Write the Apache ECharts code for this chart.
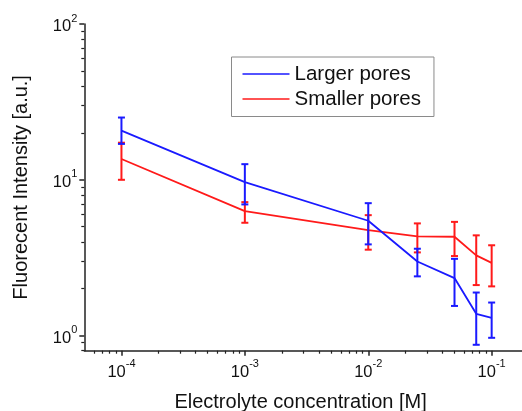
<!DOCTYPE html>
<html>
<head>
<meta charset="utf-8">
<script src="https://cdn.jsdelivr.net/npm/echarts@6/dist/echarts.min.js"></script>
<style>
html,body{margin:0;padding:0;background:#fff;}
#c{width:522px;height:411px;}
</style>
</head>
<body>
<div id="c"></div>
<script>
// Data
const concentrations = [0.0001, 0.001, 0.01, 0.025, 0.05, 0.075, 0.1];
const largerMean = [20.7, 9.66, 5.46, 2.99, 2.34, 1.38, 1.30];
const largerHigh = [25.1, 12.6, 7.08, 3.61, 3.11, 1.89, 1.63];
const largerLow  = [17.0, 6.95, 3.85, 2.40, 1.55, 0.873, 0.968];
const smallerMean = [13.6, 6.29, 4.75, 4.33, 4.31, 3.27, 2.93];
const smallerHigh = [17.3, 7.19, 5.93, 5.25, 5.37, 4.40, 3.80];
const smallerLow  = [10.0, 5.30, 3.56, 3.42, 3.24, 2.11, 2.07];
const xMajorTicks = [0.0001, 0.001, 0.01, 0.1];
const yMajorTicks = [1, 10, 100];
const xMinorTicks = [6e-5, 7e-5, 8e-5, 9e-5,
  2e-4, 3e-4, 4e-4, 5e-4, 6e-4, 7e-4, 8e-4, 9e-4,
  2e-3, 3e-3, 4e-3, 5e-3, 6e-3, 7e-3, 8e-3, 9e-3,
  2e-2, 3e-2, 4e-2, 5e-2, 6e-2, 7e-2, 8e-2, 9e-2];
const yMinorTicks = [0.8, 0.9, 2, 3, 4, 5, 6, 7, 8, 9, 20, 30, 40, 50, 60, 70, 80, 90];
const seriesNames = ['Larger pores', 'Smaller pores'];

const FONT = "'Liberation Sans', Arial, sans-serif";
const BLUE = '#1a1aff';
const RED = '#ff1a1a';
const AXIS = '#222';

function powLabel(v) {
  const e = Math.round(Math.log10(v));
  return '{b|10}{s|' + e + '}';
}
const rich = {
  b: {fontSize: 16.5, fontFamily: FONT, color: '#111', lineHeight: 22, verticalAlign: 'bottom'},
  s: {fontSize: 11, fontFamily: FONT, color: '#111', verticalAlign: 'top', lineHeight: 12}
};

function errBar(color) {
  return function (params, api) {
    const x = api.value(0);
    const lo = api.coord([x, api.value(1)]);
    const hi = api.coord([x, api.value(2)]);
    const w = 3.5;
    const st = {stroke: color, lineWidth: 2};
    return {
      type: 'group',
      children: [
        {type: 'line', shape: {x1: lo[0], y1: lo[1], x2: hi[0], y2: hi[1]}, style: st},
        {type: 'line', shape: {x1: lo[0] - w, y1: lo[1], x2: lo[0] + w, y2: lo[1]}, style: st},
        {type: 'line', shape: {x1: hi[0] - w, y1: hi[1], x2: hi[0] + w, y2: hi[1]}, style: st}
      ]
    };
  };
}

const chart = echarts.init(document.getElementById('c'), null, {renderer: 'canvas'});
const xBase = {
  type: 'log', logBase: 10, min: 5e-5, max: 0.2, position: 'bottom',
  splitLine: {show: false}
};
const yBase = {
  type: 'log', logBase: 10, min: 0.8, max: 100, position: 'left',
  splitLine: {show: false}
};
chart.setOption({
  animation: false,
  backgroundColor: '#fff',
  grid: {left: 84.3, top: 24, right: -6.8, bottom: 60.3, containLabel: false, outerBoundsMode: 'none'},
  legend: {
    data: seriesNames.map(n => ({name: n, icon: 'rect'})),
    orient: 'vertical',
    left: 231.5, top: 57,
    padding: [4.5, 13, 5, 11],
    itemGap: 0,
    itemWidth: 47, itemHeight: 1.6,
    borderColor: '#8a8a8a', borderWidth: 1,
    textStyle: {fontSize: 20.5, fontFamily: FONT, color: '#111', lineHeight: 25}
  },
  xAxis: [
    Object.assign({}, xBase, {
      name: 'Electrolyte concentration [M]',
      nameLocation: 'middle', nameGap: 42,
      nameTextStyle: {fontSize: 20, fontFamily: FONT, color: '#111', padding: [0, 12, 0, 0]},
      axisLine: {show: true, lineStyle: {color: AXIS, width: 1.5}},
      axisTick: {show: true, inside: false, length: 5, customValues: xMajorTicks, lineStyle: {color: AXIS, width: 1.5}},
      axisLabel: {show: true, margin: 8, customValues: xMajorTicks, formatter: powLabel, rich: rich}
    }),
    Object.assign({}, xBase, {
      axisLine: {show: false},
      axisTick: {show: true, inside: false, length: 3, customValues: xMinorTicks, lineStyle: {color: AXIS, width: 1.2}},
      axisLabel: {show: false}
    })
  ],
  yAxis: [
    Object.assign({}, yBase, {
      name: 'Fluorecent Intensity [a.u.]',
      nameLocation: 'middle', nameGap: 53,
      nameTextStyle: {fontSize: 20, fontFamily: FONT, color: '#111'},
      axisLine: {show: true, lineStyle: {color: AXIS, width: 1.5}},
      axisTick: {show: true, inside: false, length: 5, customValues: yMajorTicks, lineStyle: {color: AXIS, width: 1.5}},
      axisLabel: {show: true, margin: 7, customValues: yMajorTicks, formatter: powLabel, rich: rich}
    }),
    Object.assign({}, yBase, {
      axisLine: {show: false},
      axisTick: {show: true, inside: false, length: 3, customValues: yMinorTicks, lineStyle: {color: AXIS, width: 1.2}},
      axisLabel: {show: false}
    })
  ],
  series: [
    {
      name: seriesNames[1], type: 'line', symbol: 'none',
      data: concentrations.map((x, i) => [x, smallerMean[i]]),
      lineStyle: {color: RED, width: 1.8}, itemStyle: {color: RED}, z: 2
    },
    {
      name: 'smallerErr', type: 'custom',
      data: concentrations.map((x, i) => [x, smallerLow[i], smallerHigh[i]]),
      renderItem: errBar(RED), z: 2
    },
    {
      name: seriesNames[0], type: 'line', symbol: 'none',
      data: concentrations.map((x, i) => [x, largerMean[i]]),
      lineStyle: {color: BLUE, width: 1.8}, itemStyle: {color: BLUE}, z: 3
    },
    {
      name: 'largerErr', type: 'custom',
      data: concentrations.map((x, i) => [x, largerLow[i], largerHigh[i]]),
      renderItem: errBar(BLUE), z: 3
    }
  ]
});
</script>
</body>
</html>
